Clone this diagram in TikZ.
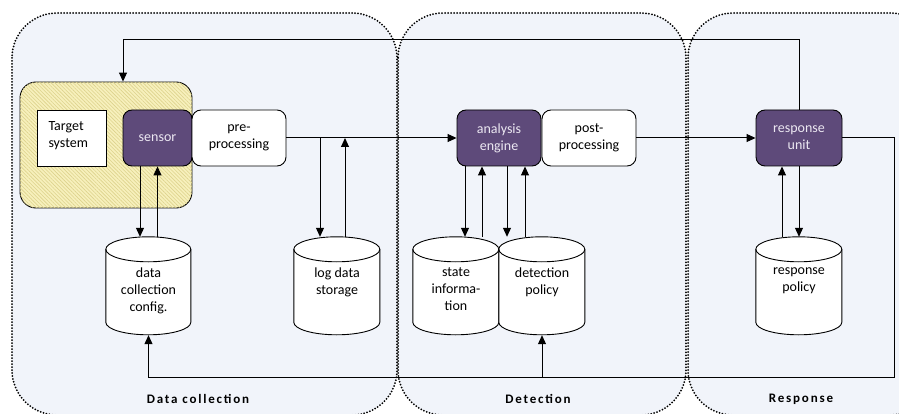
\documentclass[tikz,border=0pt]{standalone}
\usepackage{fontspec}
\setmainfont{Carlito}
\usetikzlibrary{arrows.meta,patterns.meta}
\pgfdeclarelayer{regions}
\pgfdeclarelayer{shapes}
\pgfsetlayers{regions,shapes,main}
\definecolor{regionfill}{HTML}{F1F4FA}
\definecolor{unitfill}{HTML}{5E4A7A}
\definecolor{unittext}{HTML}{ECE8F2}
\definecolor{hostfill}{HTML}{F7F0BC}
\definecolor{hosthatch}{HTML}{DDD28C}
\newcommand{\boxfont}{\fontsize{14pt}{17pt}\selectfont}
\begin{document}
\begin{tikzpicture}[x=1pt,y=-1pt,
  region/.style={fill=regionfill, rounded corners=45pt},
  regionedge/.style={draw=black, line width=2pt, dash pattern=on 0pt off 3pt,
    line cap=round, rounded corners=45pt},
  unit/.style={draw=black, line width=0.9pt, fill=unitfill, text=unittext,
    rounded corners=9pt, minimum height=56pt, inner sep=0pt, align=center, font=\boxfont},
  stage/.style={draw=black, line width=0.9pt, fill=white,
    rounded corners=9pt, minimum height=56pt, inner sep=0pt, align=center, font=\boxfont},
  store/.style={minimum width=86pt, minimum height=98pt, inner sep=0pt, font=\boxfont,
    execute at begin node={\begin{minipage}[c][46pt][t]{84pt}\vspace*{5pt}\centering},
    execute at end node={\end{minipage}}},
  drum/.style={draw=black, line width=0.9pt, fill=white},
  arr/.style={draw=black, line width=1pt, -{Triangle[length=9pt,width=8pt]}},
  zonelabel/.style={font=\fontsize{13pt}{15pt}\selectfont\bfseries\addfontfeature{LetterSpace=14}}
]
\clip (0,0) rectangle (899,414);
\useasboundingbox (0,0) rectangle (899,414);

% the three dotted zones
\begin{pgfonlayer}{regions}
  \fill[white] (0,0) rectangle (899,414);
  \path[region] (12,13) rectangle (397,415);
  \path[region] (398,13) rectangle (686,415);
  \path[region] (688,13) rectangle (935,415);
  \path[regionedge] (12,13) rectangle (397,415);
  \path[regionedge] (398,13) rectangle (686,415);
  \path[regionedge] (688,13) rectangle (935,415);
\end{pgfonlayer}

% monitored host with its sensor
\node (host) [draw=black, line width=0.9pt, rounded corners=16pt, fill=hostfill,
  postaction={pattern={Lines[angle=-45,distance=2.6pt,line width=0.6pt]}, pattern color=hosthatch},
  minimum width=172pt, minimum height=126pt] at (106,145) {};
\node (target) [draw=black, line width=0.9pt, fill=white, minimum width=69pt, minimum height=56pt,
  inner sep=0pt, font=\boxfont] at (71.5,138)
  {\begin{minipage}[c][42pt][t]{46pt}\vspace*{5pt}Target\\system\end{minipage}};
\node (sensor) [unit, minimum width=69pt] at (157.5,138) {sensor};
\node (pre)    [stage, minimum width=94pt] at (239,138) {pre-\\processing};

% analysis and response units
\node (engine) [unit, minimum width=84pt] at (499,138) {analysis\\engine};
\node (post)   [stage, minimum width=94pt] at (589,138) {post-\\processing};
\node (resp)   [unit, minimum width=86pt] at (799,138) {response\\unit};

% data stores
\node (dcc)   [store, minimum width=85pt] at (148.5,286) {data\\collection\\config.};
\node (log)   [store] at (337,286) {log data\\storage};
\node (state) [store] at (456,286) {state\\informa-\\tion};
\node (dpol)  [store] at (542,286) {detection\\policy};
\node (rpol)  [store] at (799,286) {response\\policy};

\begin{pgfonlayer}{shapes}
  \foreach \s/\r in {dcc/42.5,log/43,state/43,dpol/43,rpol/43}{
    \path[drum] (\s.north west) ++(0,12.5) -- ++(0,73)
      arc[start angle=180, end angle=0, x radius=\r, y radius=12.5] -- ++(0,-73)
      arc[start angle=0, end angle=-180, x radius=\r, y radius=12.5] -- cycle;
    \draw[black, line width=0.9pt] (\s.north west) ++(0,12.5)
      arc[start angle=180, end angle=0, x radius=\r, y radius=12.5];
  }
\end{pgfonlayer}

% main processing chain
\draw[arr] (pre.east) -- (engine.west);
\draw[arr] (post.east) -- (resp.west);

% log storage taps
\draw[arr] ([xshift=-17pt]log.north |- pre.east) -- ([xshift=-17pt]log.north);
\draw[arr] ([xshift=8pt]log.north) -- ([xshift=8pt]log.north |- pre.east);

% sensor and its configuration
\draw[arr] ([xshift=-17.5pt]sensor.south) -- ([xshift=-17.5pt]sensor.south |- dcc.north);
\draw[arr] (sensor.south |- dcc.north) -- (sensor.south);

% analysis engine and its stores
\draw[arr] ([xshift=-34pt]engine.south) -- ([xshift=-34pt]engine.south |- state.north);
\draw[arr] ([xshift=-17pt]engine.south |- state.north) -- ([xshift=-17pt]engine.south);
\draw[arr] ([xshift=8pt]engine.south) -- ([xshift=8pt]engine.south |- dpol.north);
\draw[arr] ([xshift=26pt]engine.south |- dpol.north) -- ([xshift=26pt]engine.south);

% response unit and its policy
\draw[arr] ([xshift=-17pt]resp.south |- rpol.north) -- ([xshift=-17pt]resp.south);
\draw[arr] (resp.south) -- (rpol.north);

% feedback loops
\coordinate (fbtop) at (123,40);
\coordinate (fbright) at (894,377);
\draw[arr] (resp.north) |- (fbtop) -- (fbtop |- host.north);
\draw[arr] (resp.east) -| (fbright) -| (dcc.south);
\draw[arr] (dpol.south |- fbright) -- (dpol.south);

% zone titles
\node (zdc)  [zonelabel] at (198,399) {Data collection};
\node (zdet) [zonelabel] at (538,399) {Detection};
\node (zres) [zonelabel] at (801,399) {Response};
\end{tikzpicture}
\end{document}
